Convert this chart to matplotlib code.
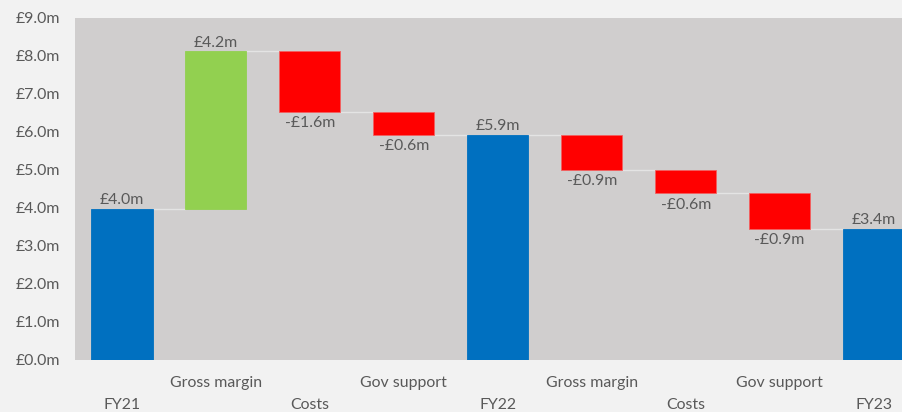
import numpy as np
import matplotlib.pyplot as plt

# Waterfall: FY21 -> FY22 -> FY23 (values in £m)
categories = ["FY21", "Gross margin", "Costs", "Gov support", "FY22",
              "Gross margin", "Costs", "Gov support", "FY23"]
changes = [3.97, 4.15, -1.60, -0.60, None, -0.93, -0.62, -0.93, None]
yticks = np.arange(0, 9.5, 1.0)

blue = "#0070C0"
green = "#92D050"
red = "#FF0000"
text_col = "#595959"
fs = 11.4

plt.rcParams["font.family"] = ["Lato", "DejaVu Sans"]

fig = plt.figure(figsize=(9.03, 4.12), dpi=100, facecolor="#F2F2F2")
ax = fig.add_axes([75 / 903, 1 - 359.5 / 412, 845.6 / 903, 342 / 412])
ax.set_facecolor("#D0CECE")

# work out running totals, bottoms and heights of each bar
bottoms, heights, colors, labels = [], [], [], []
running = 0.0
for i, c in enumerate(changes):
    if c is None or i == 0:
        if c is not None:
            running = c
        bottoms.append(0)
        heights.append(running)
        colors.append(blue)
        labels.append(f"£{running:.1f}m")
    else:
        start = running
        running = running + c
        bottoms.append(min(start, running))
        heights.append(abs(c))
        colors.append(green if c > 0 else red)
        labels.append(f"£{c:.1f}m" if c > 0 else f"-£{abs(c):.1f}m")

x = np.arange(len(categories))
w = 0.65
ax.bar(x, heights, bottom=bottoms, width=w, color=colors, zorder=3,
       edgecolor=[c if c != red else "#F26060" for c in colors], linewidth=0.6)

# connector lines between consecutive bars
levels = []
running = 0.0
for i, c in enumerate(changes):
    if c is not None:
        running = c if i == 0 else running + c
    levels.append(running)
for i in range(len(x) - 1):
    ax.plot([x[i] + w / 2, x[i + 1] - w / 2], [levels[i], levels[i]],
            color="#E4E4E4", lw=1.0, zorder=2)

# value labels: above positive/total bars, below negative ones
for i in range(len(x)):
    c = changes[i]
    if c is not None and c < 0 and i != 0:
        ax.annotate(labels[i], (x[i], bottoms[i]), xytext=(0, -3),
                    textcoords="offset points", ha="center", va="top",
                    fontsize=fs, color=text_col)
    else:
        ax.annotate(labels[i], (x[i], bottoms[i] + heights[i]), xytext=(0, 1),
                    textcoords="offset points", ha="center", va="bottom",
                    fontsize=fs, color=text_col)

ax.set_xlim(-0.5, len(x) - 0.5)
ax.set_ylim(0, 9.0)
ax.set_yticks(yticks)
ax.set_yticklabels([f"£{v:.1f}m" for v in yticks], fontsize=fs, color=text_col)
ax.tick_params(axis="y", length=0, pad=11)
ax.set_xticks([])
for s in ax.spines.values():
    s.set_visible(False)

# staggered category labels
trans = ax.get_xaxis_transform()
for i, name in enumerate(categories):
    yoff = -45.5 / 342 if i % 2 == 0 else -23.5 / 342
    ax.text(x[i], yoff, name, transform=trans, ha="center", va="center",
            fontsize=fs, color=text_col)

fig.savefig("out.png", dpi=100, facecolor=fig.get_facecolor())
